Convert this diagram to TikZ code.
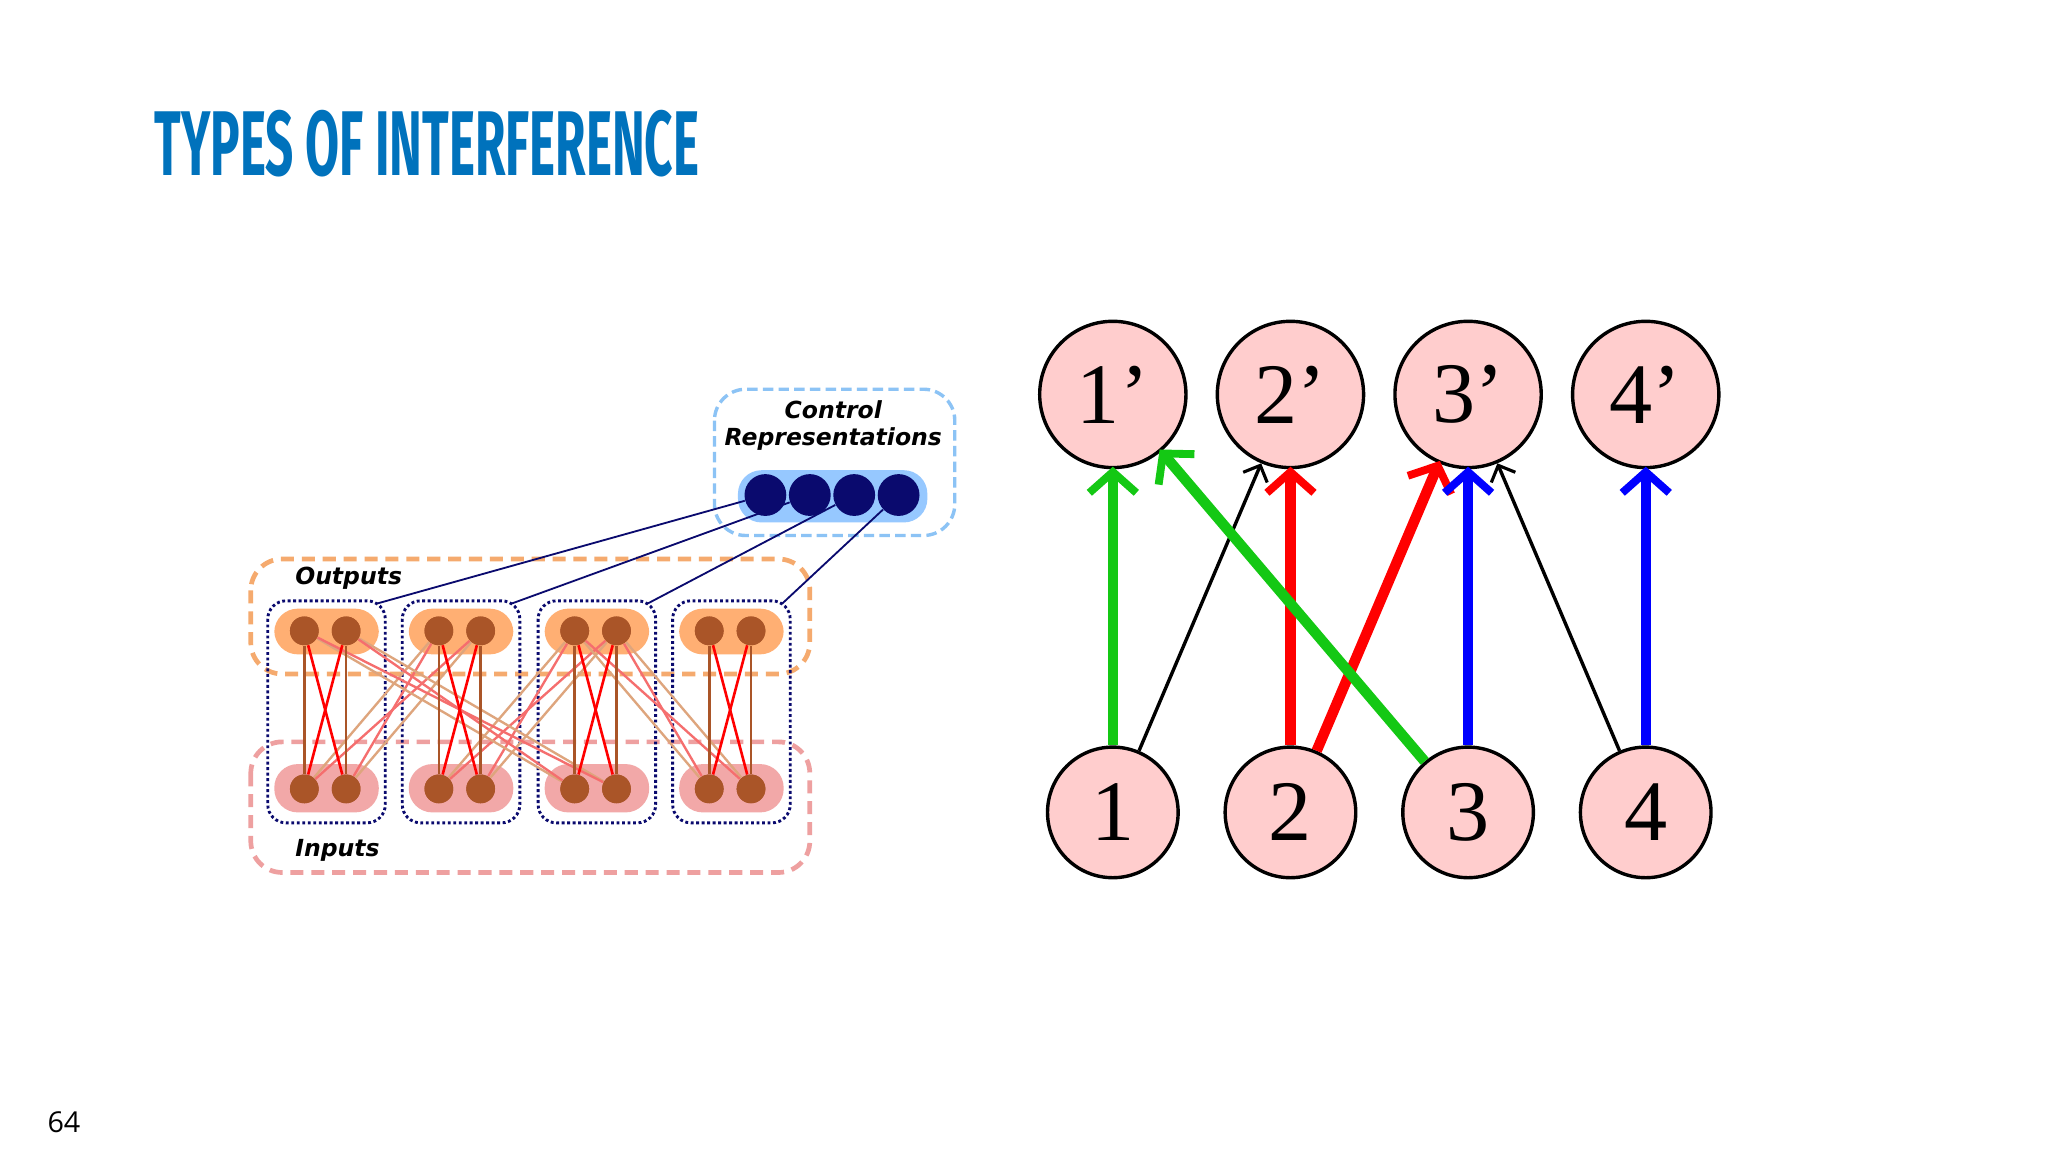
\documentclass[tikz,border=0pt]{standalone}
\usepackage{fontspec}
\setmainfont{Liberation Serif}
\newfontfamily\vsans{DejaVu Sans}
\newfontfamily\titlef{Fira Sans}
\newfontfamily\numf{Open Sans}
\usetikzlibrary{arrows.meta}
\definecolor{titleblue}{RGB}{0,114,188}
\definecolor{pinkc}{RGB}{255,205,205}
\definecolor{gr}{RGB}{20,200,20}
\definecolor{navy}{RGB}{10,10,110}
\definecolor{brn}{RGB}{170,85,40}
\definecolor{opad}{RGB}{255,175,115}
\definecolor{ppad}{RGB}{242,168,168}
\definecolor{obox}{RGB}{245,170,110}
\definecolor{pbox}{RGB}{238,160,160}
\definecolor{cbox}{RGB}{140,195,245}
\definecolor{cbar}{RGB}{150,200,255}
\definecolor{lred}{RGB}{245,110,110}
\definecolor{tan}{RGB}{222,165,125}
\tikzset{
  big/.style={circle,draw=black,line width=1.3pt,fill=pinkc,inner sep=0pt,font=\fontsize{33}{33}\selectfont},
  top/.style={big,minimum size=56pt},
  bot/.style={big,minimum size=50pt},
  thickarr/.style={line width=4pt,-{Straight Barb[length=8pt,width=18pt,line width=3pt]},shorten >=-1pt},
  thinarr/.style={line width=1.3pt,-{Straight Barb[length=5pt,width=10pt,line width=1.2pt]}},
  unit/.style={circle,fill=brn,inner sep=0pt,minimum size=11pt},
  ctrl/.style={circle,fill=navy,inner sep=0pt,minimum width=15pt,minimum height=16pt},
  col/.style={draw=navy,densely dotted,line width=1.1pt,rounded corners=7pt},
  lab/.style={font=\vsans\bfseries\itshape\fontsize{9}{10.5}\selectfont,align=center},
  grp/.style={dashed,dash pattern=on 5pt off 3pt,line width=1.8pt,rounded corners=12pt},
}
\begin{document}
\begin{tikzpicture}[x=0.5pt,y=-0.5pt]
\useasboundingbox[fill=white] (0,0) rectangle (1568,882);
\node[anchor=west,text=titleblue,inner sep=0pt] (title) at (118,110) {\resizebox{208.5pt}{25pt}{\titlef\bfseries TYPES OF INTERFERENCE}};
\node[anchor=west,inner sep=0pt,font=\numf\fontsize{11}{11}\selectfont] (pg) at (36,859) {64};

\draw[cbox,grp,line width=1.3pt,dash pattern=on 4pt off 2pt] (547,298) rectangle (731,410);
\node[lab] (ctl) at (638,326) {Control\\Representations};
\fill[cbar,rounded corners=9pt] (565,360) rectangle (710,400);
\foreach \i/\x in {1/586,2/620,3/654,4/688} \node[ctrl] (c\i) at (\x,379) {};

\draw[obox,grp] (192,428) rectangle (620,516);
\draw[pbox,grp] (192,568) rectangle (620,668);
\node[lab,anchor=west] (outl) at (219,443) {Outputs};
\node[lab,anchor=west] (inl) at (219,651) {Inputs};

\foreach \k/\x in {1/205,2/308,3/412,4/515}{
  \fill[opad,rounded corners=9pt] (\x+5,466) rectangle (\x+85,501);
  \fill[ppad,rounded corners=9pt] (\x+5,585) rectangle (\x+85,622);
  \draw[col] (\x,460) rectangle (\x+90,630);
  \coordinate (k\k) at (\x+84,462);
  \node[unit] (o\k a) at (\x+28,483) {};
  \node[unit] (o\k b) at (\x+60,483) {};
  \node[unit] (i\k a) at (\x+28,604) {};
  \node[unit] (i\k b) at (\x+60,604) {};
}
\foreach \s/\t in {1/2,2/3,3/1,4/3}{
  \draw[tan,line width=0.9pt] (i\s a) -- (o\t a);
  \draw[tan,line width=0.9pt] (i\s b) -- (o\t b);
  \draw[lred,line width=0.9pt] (i\s a) -- (o\t b);
  \draw[lred,line width=0.9pt] (i\s b) -- (o\t a);
}
\foreach \k in {1,2,3,4}{
  \draw[brn,line width=1pt] (i\k a) -- (o\k a);
  \draw[brn,line width=1pt] (i\k b) -- (o\k b);
  \draw[red,line width=1pt] (i\k a) -- (o\k b);
  \draw[red,line width=1pt] (i\k b) -- (o\k a);
}
\foreach \k in {1,2,3,4}{
  \node[unit] at (o\k a) {}; \node[unit] at (o\k b) {};
  \node[unit] at (i\k a) {}; \node[unit] at (i\k b) {};
}
\foreach \k in {1,2,3,4} \draw[navy,line width=0.7pt] (c\k) -- (k\k);

\foreach \k/\x in {1/852,2/988,3/1124,4/1260}{
  \node[top] (t\k) at (\x,302) {\k’};
  \node[bot] (b\k) at (\x,622) {\k};
}
\draw[thinarr] (b1) -- (t2);
\draw[thinarr] (b4) -- (t3);
\draw[thickarr,gr] (b1) -- (t1);
\draw[thickarr,red] (b2) -- (t2);
\draw[thickarr,red] (b2) -- (t3);
\draw[thickarr,gr] (b3) -- (t1);
\draw[thickarr,blue] (b3) -- (t3);
\draw[thickarr,blue] (b4) -- (t4);
\end{tikzpicture}
\end{document}
